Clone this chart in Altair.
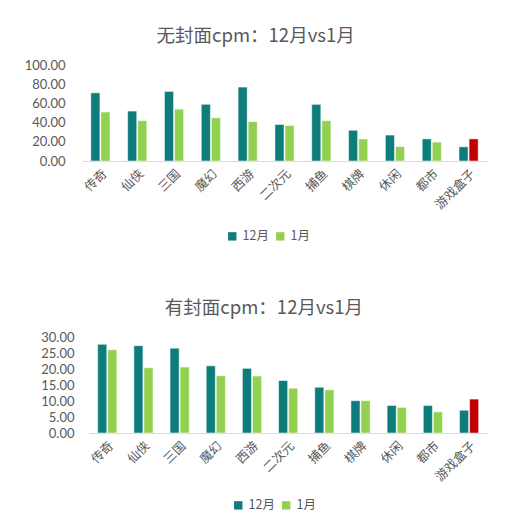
import pandas as pd
import altair as alt

categories = ["传奇", "仙侠", "三国", "魔幻", "西游", "二次元", "捕鱼", "棋牌", "休闲", "都市", "游戏盒子"]
series = ["12月", "1月"]

# 无封面cpm
nocover_dec = [71.0, 52.0, 72.5, 59.0, 77.0, 38.0, 59.0, 32.0, 27.0, 23.0, 14.8]
nocover_jan = [51.0, 42.0, 54.0, 45.0, 41.0, 37.0, 42.0, 23.0, 15.0, 19.7, 23.0]

# 有封面cpm
cover_dec = [27.7, 27.3, 26.5, 21.0, 20.2, 16.4, 14.3, 10.1, 8.6, 8.6, 7.1]
cover_jan = [26.0, 20.4, 20.6, 17.9, 17.8, 14.0, 13.5, 10.1, 8.0, 6.6, 10.6]

TEXT = "#595959"
FONT = "Noto Sans CJK SC"


def tidy(dec, jan):
    rows = []
    for c, d, j in zip(categories, dec, jan):
        rows.append({"cat": c, "series": "12月", "value": d})
        rows.append({"cat": c, "series": "1月", "value": j})
    return pd.DataFrame(rows)


def bars(df, title, ymax, step, xrange, legend_x, legend_y, label_pad):
    highlight = (alt.datum.cat == "游戏盒子") & (alt.datum.series == "1月")
    return alt.Chart(df).mark_bar(stroke="white", strokeWidth=0.5).encode(
        x=alt.X("cat:N", sort=categories, title=None,
                scale=alt.Scale(paddingInner=0.48, paddingOuter=0.24, range=xrange),
                axis=alt.Axis(labelAngle=-45, labelFontSize=12.5, labelColor=TEXT,
                              domainColor="#d9d9d9", ticks=False, labelPadding=6)),
        xOffset=alt.XOffset("series:N", sort=series, scale=alt.Scale(domain=series, paddingInner=0.1)),
        y=alt.Y("value:Q", title=None,
                scale=alt.Scale(domain=[0, ymax], nice=False),
                axis=alt.Axis(values=list(range(0, ymax + 1, step)), format=".2f",
                              grid=False, domain=False, ticks=False, labelFontSize=13,
                              labelFont="Lato", labelColor=TEXT, labelPadding=label_pad)),
        color=alt.condition(
            highlight,
            alt.value("#C00000"),
            alt.Color("series:N", sort=series, title=None,
                      scale=alt.Scale(domain=series, range=["#0E7C7B", "#92D050"]),
                      legend=alt.Legend(orient="none", legendX=legend_x, legendY=legend_y,
                                        direction="horizontal",
                                        symbolType="square", symbolSize=70,
                                        labelFontSize=12.5, labelColor=TEXT,
                                        symbolStrokeWidth=0, columnPadding=5)),
        ),
    ).properties(
        width=405, height=96,
        title=alt.Title(title, fontSize=18.5, fontWeight="normal", color=TEXT,
                        anchor="middle", frame="bounds", offset=14),
    )


top = bars(tidy(nocover_dec, nocover_jan), "无封面cpm：12月vs1月", 100, 20, [0, 405], 144, 165, 17)
bottom = bars(tidy(cover_dec, cover_jan), "有封面cpm：12月vs1月", 30, 5, [7, 405], 150, 162, 8)

chart = alt.vconcat(top, bottom, spacing=55).resolve_scale(
    color="independent"
).resolve_legend(
    color="independent"
).configure(
    font=FONT
).configure_view(
    stroke=None
).properties(
    padding={"left": 16, "top": 18, "right": 5, "bottom": 5}
)

chart.save("out.html", embed_options={"renderer": "svg", "actions": False})
